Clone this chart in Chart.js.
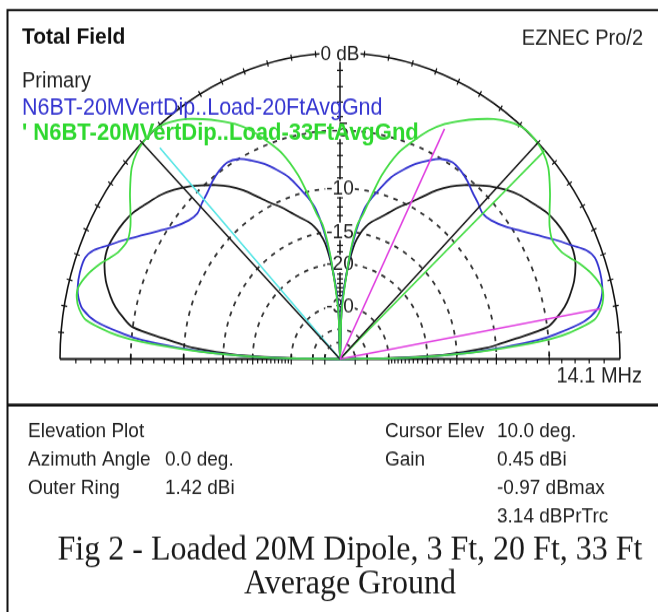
<!DOCTYPE html>
<html>
<head>
<meta charset="utf-8">
<script src="https://cdn.jsdelivr.net/npm/chart.js@4/dist/chart.umd.min.js"></script>
<style>
  html, body { margin: 0; padding: 0; background: #fff; overflow: hidden; }
  #plot { display: block; }
</style>
</head>
<body>
<canvas id="plot" width="658" height="560" style="width:658px;height:612px"></canvas>
<script>
// Elevation angles (deg) of the right half of the plot; the left half mirrors it.
const elevations = [0, 1, 2, 3, 4, 5, 6, 8, 10, 12, 14, 17, 20, 22, 24, 27, 30, 33, 36, 40, 43, 46, 49, 52,
  55, 58, 61, 64, 67, 70, 73, 76, 78, 80, 82, 84, 86, 88, 90];

// Gain relative to the outer ring (dB) at each elevation.
const primaryDb = [-99, -30, -18, -14, -11, -9.5, -8, -5, -4.1, -3.4, -2.9, -2.3, -1.9, -1.75, -1.7, -1.8, -1.95,
  -2.2, -2.6, -3.1, -3.6, -4.2, -4.9, -5.6, -6.4, -7.4, -8.6, -9.7, -10.6, -11.6, -12.5, -13.3, -14, -15,
  -16.5, -19.5, -24, -31, -99];
const gnd20Db = [-99, -24, -16, -11.5, -8.5, -5.9, -4.4, -2.2, -1.2, -0.8, -0.6, -0.5, -0.55, -0.9, -1.6, -2.6,
  -3.6, -4.5, -5.3, -6.0, -6.2, -5.9, -5.6, -5.2, -4.9, -4.75, -5.0, -5.6, -6.3, -7.2, -8.2, -9.7, -10.7, -12,
  -14.5, -18.5, -24, -31, -99];
const gnd33Db = [-99, -24, -16, -11, -7.5, -4.8, -3.3, -1.5, -0.95, -0.68, -0.63, -1.0, -1.6, -2.1, -2.5, -2.75,
  -2.5, -1.95, -1.3, -0.5, -0.15, 0, 0, -0.3, -0.75, -1.35, -2.0, -2.7, -3.6, -4.8, -6.1, -8.2, -10.3, -12.5,
  -14, -18, -25, -33, -99];

// Marker lines from the origin: elevation (deg) and reach (dB below the outer ring).
const cursorElev = 10.0;
const cursorDbMax = -0.97;
const halfPowerElev = 63.6;
const halfPowerDb = -3;
const refLineElevs = [45, 135];
const sideLineElevs = [43, 133];
const sideLineDb = [0, -1.0];

// Dashed rings and their labels (dB).
const ringDb = [-5, -10, -15, -20, -30, -40, -50];
const ringLabels = ['-5', '-10', '-15', '-20', '-30'];
const ringLabelDb = [-5, -10, -15, -20, -30];

// Header, legend and info panel texts.
const titleText = 'Total Field';
const brandText = 'EZNEC Pro/2';
const legendNames = ['Primary', 'N6BT-20MVertDip..Load-20FtAvgGnd', '\' N6BT-20MVertDip..Load-33FtAvgGnd'];
const freqText = '14.1 MHz';
const infoLeft = [['Elevation Plot', ''], ['Azimuth Angle', '0.0 deg.'], ['Outer Ring', '1.42 dBi']];
const infoRight = [['Cursor Elev', '10.0 deg.'], ['Gain', '0.45 dBi'], ['', '-0.97 dBmax'], ['', '3.14 dBPrTrc']];
const captionLines = ['Fig 2 - Loaded 20M Dipole, 3 Ft, 20 Ft, 33 Ft', 'Average Ground'];

// ARRL log scale: radius shrinks by 0.89 for every 2 dB.
function ringRadius(db) { return db <= -60 ? 0 : Math.pow(0.89, -db / 2); }
function polar(angleDeg, r) {
  const a = angleDeg * Math.PI / 180;
  return { x: r * Math.cos(a), y: r * Math.sin(a) };
}
function tracePoints(dbs) {
  const pts = elevations.map((el, i) => polar(el, ringRadius(dbs[i])));
  for (let i = elevations.length - 2; i >= 0; i--) {
    pts.push(polar(180 - elevations[i], ringRadius(dbs[i])));
  }
  return pts;
}
function rayPoints(angleDeg, db) {
  return [{ x: 0, y: 0 }, polar(angleDeg, ringRadius(db))];
}

const SANS = '"Liberation Sans", Arial, sans-serif';
const SERIF = '"Liberation Serif", "Times New Roman", serif';

function text(ctx, str, x, y, font, color, align) {
  ctx.font = font;
  ctx.fillStyle = color;
  ctx.textAlign = align || 'left';
  ctx.textBaseline = 'alphabetic';
  ctx.fillText(str, x, y);
}

const polarFrame = {
  id: 'polarFrame',
  beforeDatasetsDraw(chart) {
    const { ctx, scales: { x, y } } = chart;
    const cx = x.getPixelForValue(0);
    const cy = y.getPixelForValue(0);
    const R = x.getPixelForValue(1) - cx;
    ctx.save();

    // frame
    ctx.strokeStyle = '#111';
    ctx.lineWidth = 2;
    ctx.beginPath();
    ctx.moveTo(7.5, 560); ctx.lineTo(7.5, 9.2); ctx.lineTo(658, 9.2);
    ctx.stroke();

    // dashed rings
    ctx.strokeStyle = '#333';
    ctx.lineWidth = 1.8;
    ctx.setLineDash([4.5, 5.5]);
    ringDb.forEach(db => {
      const r = R * ringRadius(db);
      ctx.beginPath();
      ctx.arc(cx, cy, r, Math.PI, 2 * Math.PI);
      ctx.stroke();
    });
    ctx.setLineDash([]);

    // outer ring with 5 degree ticks
    ctx.strokeStyle = '#111';
    ctx.lineWidth = 1.6;
    ctx.beginPath();
    ctx.arc(cx, cy, R, Math.PI, 2 * Math.PI);
    ctx.stroke();
    ctx.lineWidth = 1.2;
    for (let d = 5; d < 180; d += 5) {
      const a = d * Math.PI / 180;
      ctx.beginPath();
      ctx.moveTo(cx + (R - 3) * Math.cos(a), cy - (R - 3) * Math.sin(a));
      ctx.lineTo(cx + (R + 3) * Math.cos(a), cy - (R + 3) * Math.sin(a));
      ctx.stroke();
    }

    // baseline and vertical axis
    ctx.lineWidth = 2;
    ctx.beginPath();
    ctx.moveTo(cx - R, cy); ctx.lineTo(cx + R, cy);
    ctx.stroke();
    ctx.lineWidth = 1.5;
    ctx.beginPath();
    ctx.moveTo(cx, cy); ctx.lineTo(cx, cy - R);
    ctx.stroke();

    ctx.lineWidth = 1.2;
    for (let db = -1; db >= -30; db--) {
      const r = R * ringRadius(db);
      const major = ringDb.includes(db);
      [-1, 1].forEach(s => {
        ctx.beginPath();
        ctx.moveTo(cx + s * r, cy - (major ? 5 : 0));
        ctx.lineTo(cx + s * r, cy + (major ? 5 : 4));
        ctx.stroke();
      });
      ctx.beginPath();
      ctx.moveTo(cx - 3, cy - r); ctx.lineTo(cx + 3, cy - r);
      ctx.stroke();
    }
    [-40, -50].forEach(db => {
      const r = R * ringRadius(db);
      [-1, 1].forEach(s => {
        ctx.beginPath();
        ctx.moveTo(cx + s * r, cy - 4); ctx.lineTo(cx + s * r, cy + 5);
        ctx.stroke();
      });
    });

    // axis labels on white patches
    ctx.font = '19px ' + SANS;
    ctx.textBaseline = 'middle';
    ctx.textAlign = 'center';
    const label = (str, py) => {
      const w = ctx.measureText(str).width;
      ctx.fillStyle = '#fff';
      ctx.fillRect(cx - w / 2 - 1, py - 8, w + 2, 16);
      ctx.fillStyle = '#222';
      ctx.fillText(str, cx, py + 1);
    };
    label('0 dB', cy - R);
    ringLabels.forEach((s, i) => label(s, cy - R * ringRadius(ringLabelDb[i])));

    // header and legend (over the grid, under the traces)
    text(ctx, titleText, 22, 40.3, 'bold 21px ' + SANS, '#111');
    text(ctx, brandText, 643, 40.5, '20px ' + SANS, '#222', 'right');
    text(ctx, legendNames[0], 22, 79.6, '20px ' + SANS, '#222');
    text(ctx, legendNames[1], 22, 105.2, '21.5px ' + SANS, '#3535d0');
    text(ctx, legendNames[2], 22, 128.1, 'bold 22px ' + SANS, '#2fd82f');

    text(ctx, freqText, 642, 349.5, '20px ' + SANS, '#222', 'right');
    ctx.restore();
  },
  afterDraw(chart) {
    const { ctx } = chart;
    ctx.save();
    ctx.strokeStyle = '#111';
    ctx.lineWidth = 2.8;
    ctx.beginPath();
    ctx.moveTo(7.5, 370.6); ctx.lineTo(658, 370.6);
    ctx.stroke();

    const rows = [400.2, 426.4, 452, 477.6];
    const f = '19px ' + SANS;
    infoLeft.forEach((row, i) => {
      text(ctx, row[0], 28, rows[i], f, '#222');
      text(ctx, row[1], 165, rows[i], f, '#222');
    });
    infoRight.forEach((row, i) => {
      text(ctx, row[0], 385, rows[i], f, '#222');
      text(ctx, row[1], 497, rows[i], f, '#222');
    });
    text(ctx, captionLines[0], 350, 511.5, '32px ' + SERIF, '#1a1a1a', 'center');
    text(ctx, captionLines[1], 350, 543, '32px ' + SERIF, '#1a1a1a', 'center');
    ctx.restore();
  }
};

const traceStyle = { showLine: true, pointRadius: 0, borderWidth: 1.8, tension: 0.3, clip: false, fill: false };
const rayStyle = { showLine: true, pointRadius: 0, borderWidth: 1.6, tension: 0, clip: false, fill: false };

new Chart(document.getElementById('plot'), {
  type: 'scatter',
  data: {
    datasets: [
      Object.assign({ label: 'cursor', data: rayPoints(cursorElev, cursorDbMax), borderColor: '#e040e0', order: 0 }, rayStyle),
      Object.assign({ label: 'half power', data: rayPoints(halfPowerElev, halfPowerDb), borderColor: '#e040e0', order: 0 }, rayStyle),
      Object.assign({ label: 'ref right', data: rayPoints(refLineElevs[0], 0), borderColor: '#1a1a1a', order: 1 }, rayStyle),
      Object.assign({ label: 'ref left', data: rayPoints(refLineElevs[1], 0), borderColor: '#1a1a1a', order: 1 }, rayStyle),
      Object.assign({ label: 'side right', data: rayPoints(sideLineElevs[0], sideLineDb[0]), borderColor: '#45dc45', order: 2 }, rayStyle),
      Object.assign({ label: 'side left', data: rayPoints(sideLineElevs[1], sideLineDb[1]), borderColor: '#55e5e5', order: 2 }, rayStyle),
      Object.assign({ label: legendNames[2], data: tracePoints(gnd33Db), borderColor: '#45dc45', order: 3 }, traceStyle),
      Object.assign({ label: legendNames[1], data: tracePoints(gnd20Db), borderColor: '#3535d0', order: 4 }, traceStyle),
      Object.assign({ label: legendNames[0], data: tracePoints(primaryDb), borderColor: '#1a1a1a', order: 5 }, traceStyle)
    ]
  },
  options: {
    responsive: false,
    maintainAspectRatio: false,
    animation: false,
    devicePixelRatio: 1,
    layout: { padding: { left: 60, right: 38, top: 48.5, bottom: 231.5 } },
    scales: {
      x: { type: 'linear', min: -1, max: 1, display: false },
      y: { type: 'linear', min: 0, max: 1, display: false }
    },
    plugins: { legend: { display: false }, tooltip: { enabled: false } },
    events: []
  },
  plugins: [polarFrame]
});
</script>
</body>
</html>
